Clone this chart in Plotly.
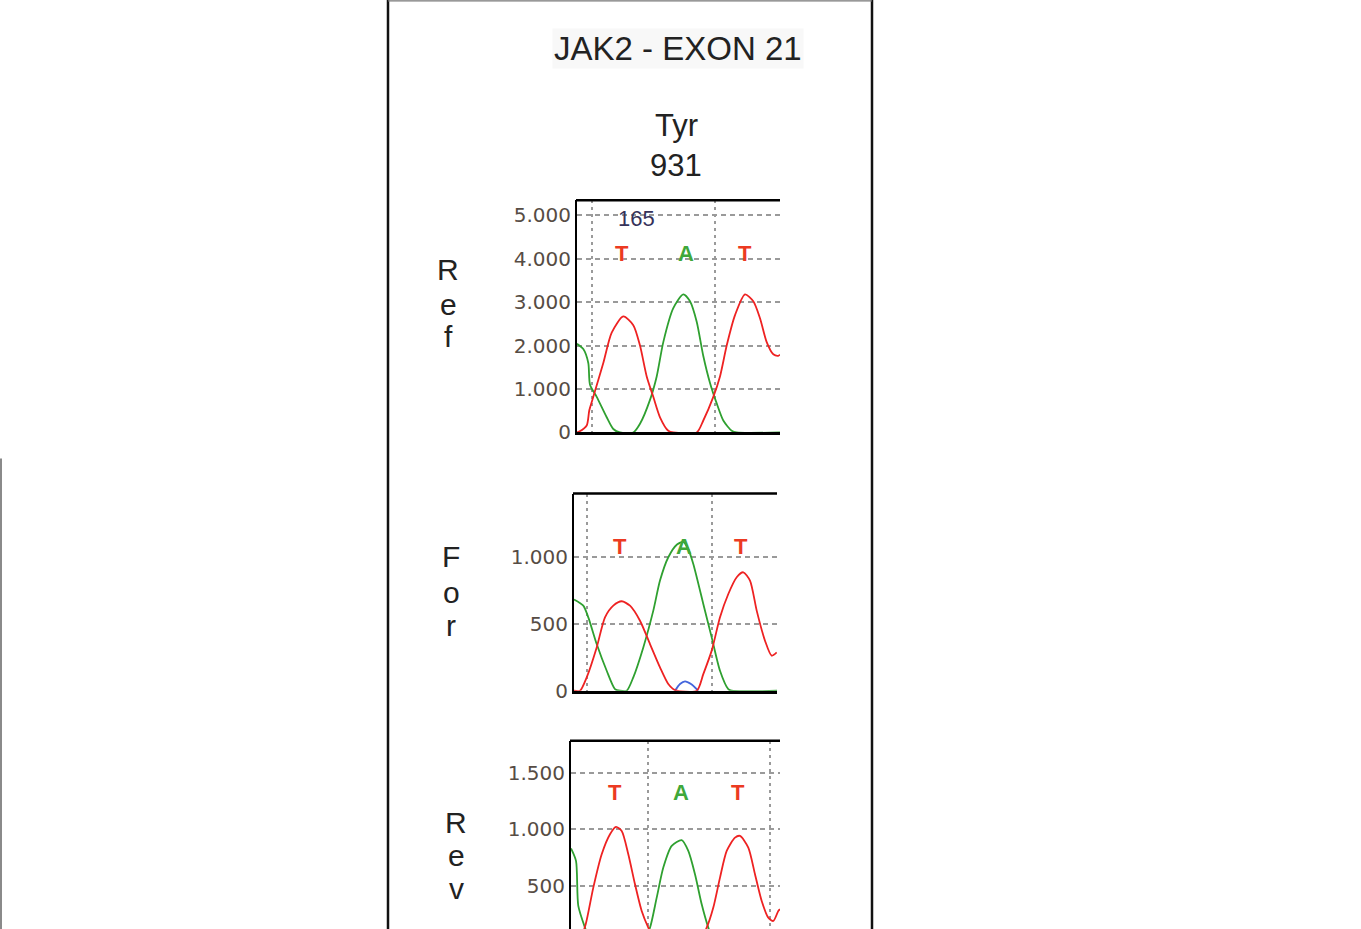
import plotly.graph_objects as go

W, H = 1361, 929
FIG_H = 942  # compensates the vertical squeeze seen in the rendering

# ---------------- data (scan position, signal) ----------------
ref_red_x = [0, 2.3, 9.7, 12.3, 16.3, 26.3, 34.7, 46.3, 56.3, 63, 69.7, 76.3, 83, 91.3, 96.3, 119.7, 126.3, 136.3, 143, 149.7, 158, 168, 176.3, 183, 189.7, 196.3, 201.3, 203]
ref_red_y = [0, 20, 160, 510, 820, 1600, 2300, 2670, 2470, 2000, 1290, 820, 350, 40, 0, 0, 275, 820, 1290, 2000, 2700, 3180, 3020, 2630, 2080, 1800, 1765, 1790]
ref_green_x = [0, 6.3, 11.3, 13, 19.7, 29.7, 36.3, 43, 56.3, 63, 73, 79.7, 86.3, 96.3, 106.3, 113, 119.7, 126.3, 133, 139.7, 146.3, 154.7, 159.7, 203]
ref_green_y = [2040, 1920, 1600, 1100, 820, 350, 80, 0, 0, 200, 750, 1290, 2080, 2860, 3180, 3020, 2550, 1760, 1140, 670, 275, 40, 0, 0]

for_red_x = [0, 6, 12.7, 22.7, 31, 39.3, 47.7, 56, 66, 76, 86, 94.3, 101, 122.7, 129.3, 137.7, 146, 154.3, 162.7, 169.3, 176, 182.7, 191, 197.7, 202.7]
for_red_y = [0, 0, 100, 323, 547, 634, 667, 634, 522, 348, 174, 50, 5, 0, 124, 299, 547, 721, 846, 883, 821, 597, 373, 261, 286]
for_green_x = [0, 9.3, 14.3, 22.7, 32.7, 41, 46, 52.7, 59.3, 69.3, 79.3, 86, 94.3, 103, 109.3, 114, 119.3, 129.3, 137.7, 146, 154.3, 157.7, 203]
for_green_y = [680, 634, 547, 348, 149, 12, 0, 0, 100, 323, 597, 821, 995, 1090, 1110, 1060, 945, 647, 398, 149, 12, 0, 0]
for_blue_x = [101, 106, 111, 117, 124.3]
for_blue_y = [0, 50, 70, 50, 0]

rev_red_x = [0, 7, 9, 14.7, 22.3, 30.7, 39, 45, 50.7, 57.3, 64, 70.7, 77.3, 84, 89, 126, 130, 135.7, 142.3, 149, 155.7, 164, 169, 177.3, 184, 190.7, 197.3, 202.3, 207.3, 209]
rev_red_y = [0, 0, 20, 160, 484, 779, 956, 1021, 985, 779, 513, 277, 130, 20, 0, 0, 40, 130, 307, 572, 808, 926, 941, 838, 602, 366, 218, 189, 277, 292]
rev_green_x = [0, 5, 7.3, 14, 19, 24, 69, 74, 79, 85.7, 92.3, 100.7, 110.7, 117.3, 124, 130.7, 137.3, 142, 146, 209]
rev_green_y = [830, 720, 322, 130, 20, 0, 0, 40, 130, 395, 661, 853, 903, 808, 602, 336, 130, 20, 0, 0]

ref_ticks = [0, 1000, 2000, 3000, 4000, 5000]
ref_ticklabels = ["0", "1.000", "2.000", "3.000", "4.000", "5.000"]
for_ticks = [0, 500, 1000]
for_ticklabels = ["0", "500", "1.000"]
rev_ticks = [500, 1000, 1500]
rev_ticklabels = ["500", "1.000", "1.500"]

ref_vgrid = [15, 138]
for_vgrid = [13, 138]
rev_vgrid = [77.3, 199]

bases = ["T", "A", "T"]
base_colors = {"T": "#ec3a22", "A": "#3fa83a"}
panel_names = ["Ref", "For", "Rev"]
title_text = "JAK2 - EXON 21"
codon_text = ["Tyr", "931"]
position_label = "165"

# ---------------- layout helpers ----------------
def px(x):
    return x / W

def py(y):
    return 1 - y / H

RED = "#ee2222"
GREEN = "#2fa030"
BLUE = "#4466dd"
GRID = "#9a9a9a"
TICKC = "#564c44"

panels = [
    dict(x0=577, x1=780, yt=200, yb=432, yr=[0, 5346], xr=[0, 203]),
    dict(x0=574, x1=777, yt=493, yb=690, yr=[0, 1470], xr=[0, 203]),
    dict(x0=571, x1=780, yt=740, yb=929, yr=[109, 1782], xr=[0, 209]),
]

fig = go.Figure()

series = [
    [(ref_green_x, ref_green_y, GREEN), (ref_red_x, ref_red_y, RED)],
    [(for_blue_x, for_blue_y, BLUE), (for_green_x, for_green_y, GREEN), (for_red_x, for_red_y, RED)],
    [(rev_green_x, rev_green_y, GREEN), (rev_red_x, rev_red_y, RED)],
]
ticks = [(ref_ticks, ref_ticklabels), (for_ticks, for_ticklabels), (rev_ticks, rev_ticklabels)]
vgrids = [ref_vgrid, for_vgrid, rev_vgrid]

for i, p in enumerate(panels):
    n = "" if i == 0 else str(i + 1)
    for xs, ys, c in series[i]:
        fig.add_trace(go.Scatter(x=xs, y=ys, mode="lines",
                                 line=dict(color=c, width=1.8, shape="spline", smoothing=0.7),
                                 xaxis="x" + n, yaxis="y" + n, showlegend=False,
                                 hoverinfo="skip", cliponaxis=True))
    fig.layout["xaxis" + n] = dict(
        domain=[px(p["x0"]), px(p["x1"])], range=p["xr"], anchor="y" + n,
        tickvals=vgrids[i], showticklabels=False, ticks="",
        showgrid=True, gridcolor=GRID, griddash="3px,4px", gridwidth=1.6,
        zeroline=False, showline=(i < 2), linecolor="black", linewidth=3,
        fixedrange=True)
    fig.layout["yaxis" + n] = dict(
        domain=[py(p["yb"]), py(p["yt"])], range=p["yr"], anchor="x" + n,
        tickvals=ticks[i][0], ticktext=ticks[i][1], ticks="",
        tickfont=dict(family="DejaVu Sans", size=20, color=TICKC),
        showgrid=True, gridcolor=GRID, griddash="5px,4px", gridwidth=1.8,
        zeroline=False, showline=True, linecolor="black", linewidth=2,
        fixedrange=True)

shapes = []
for p in panels:
    shapes.append(dict(type="line", xref="paper", yref="paper",
                       x0=px(p["x0"] - 1), x1=px(p["x1"]), y0=py(p["yt"]), y1=py(p["yt"]),
                       line=dict(color="black", width=2.5)))
shapes.append(dict(type="line", xref="paper", yref="paper", x0=px(388), x1=px(388), y0=0, y1=1,
                   line=dict(color="#111", width=2.5)))
shapes.append(dict(type="line", xref="paper", yref="paper", x0=px(872), x1=px(872), y0=0, y1=1,
                   line=dict(color="#111", width=2.5)))
shapes.append(dict(type="line", xref="paper", yref="paper", x0=px(388), x1=px(872), y0=py(0.8), y1=py(0.8),
                   line=dict(color="#777", width=1.2)))
shapes.append(dict(type="line", xref="paper", yref="paper", x0=px(1), x1=px(1), y0=0, y1=py(458),
                   line=dict(color="#8a8a8a", width=2)))

ann = []
def text(x, y, s, size, color="#222", family="Liberation Sans", bg=None):
    d = dict(x=px(x), y=py(y), xref="paper", yref="paper", text=s, showarrow=False,
             xanchor="center", yanchor="middle",
             font=dict(family=family, size=size, color=color))
    if bg:
        d["bgcolor"] = bg
    ann.append(d)

text(678, 48, title_text, 33, bg="#f8f8f8")
text(676, 125, codon_text[0], 31)
text(676, 165, codon_text[1], 31)
text(636, 218, position_label, 22, color="#35325a")

label_pos = [(448, [269, 304, 336]), (451, [556, 592, 625]), (456, [822, 855, 888])]
for name, (lx, ys) in zip(panel_names, label_pos):
    for ch, yy in zip(name, ys):
        text(lx, yy, ch, 30)

base_pos = [([622, 686, 745], 253), ([620, 684, 741], 546), ([615, 681, 738], 792)]
for xs, yy in base_pos:
    for b, xx in zip(bases, xs):
        text(xx, yy, "<b>" + b + "</b>", 22, color=base_colors[b])

fig.update_layout(width=W, height=FIG_H, autosize=False, margin=dict(l=0, r=0, t=0, b=0),
                  paper_bgcolor="white", plot_bgcolor="white",
                  shapes=shapes, annotations=ann, showlegend=False)

fig.write_html("out.html",
               config={"displayModeBar": False, "responsive": False},
               post_script="document.body.style.margin='0';document.body.style.overflow='hidden';")
